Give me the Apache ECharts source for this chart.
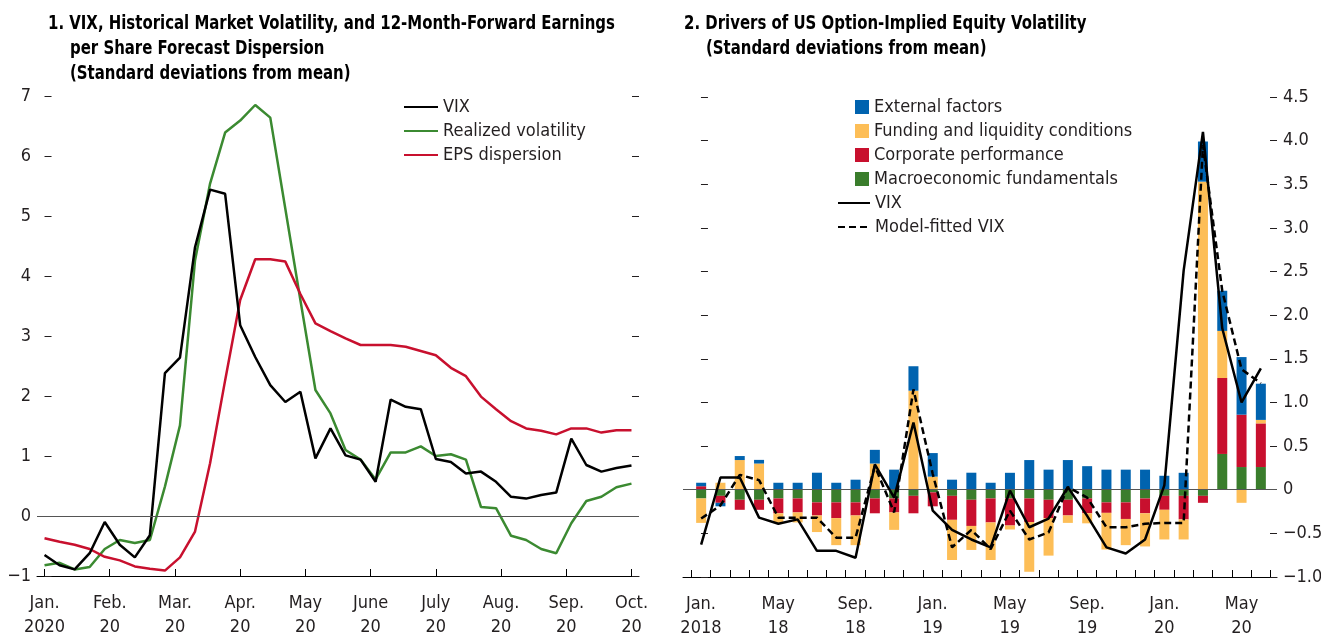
<!DOCTYPE html>
<html>
<head>
<meta charset="utf-8">
<script src="https://cdn.jsdelivr.net/npm/echarts@6/dist/echarts.min.js"></script>
<style>
  html, body { margin: 0; padding: 0; background: #fff; }
  #chart { width: 1321px; height: 633px; }
</style>
</head>
<body>
<div id="chart"></div>
<script>
// panel 1: weekly observations, Jan. 2020 - Oct. 2020
const months1 = ['Jan.\n2020', 'Feb.\n20', 'Mar.\n20', 'Apr.\n20', 'May\n20', 'June\n20', 'July\n20', 'Aug.\n20', 'Sep.\n20', 'Oct.\n20']
const vix1 = [-0.65, -0.82, -0.89, -0.62, -0.1, -0.48, -0.69, -0.32, 2.38, 2.64,
  4.48, 5.44, 5.37, 3.18, 2.65, 2.18, 1.9, 2.07, 0.96, 1.46,
  1.01, 0.94, 0.57, 1.94, 1.82, 1.78, 0.95, 0.9, 0.71, 0.74,
  0.57, 0.32, 0.29, 0.35, 0.39, 1.29, 0.85, 0.74, 0.8, 0.84]
const realizedVol = [-0.82, -0.78, -0.89, -0.85, -0.55, -0.4, -0.45, -0.4, 0.49, 1.51,
  4.26, 5.54, 6.39, 6.59, 6.85, 6.64, 5.12, 3.6, 2.1, 1.71,
  1.1, 0.94, 0.61, 1.06, 1.06, 1.16, 1.0, 1.03, 0.94, 0.15,
  0.13, -0.33, -0.4, -0.55, -0.62, -0.12, 0.25, 0.32, 0.48, 0.54]
const epsDispersion = [-0.37, -0.43, -0.48, -0.55, -0.68, -0.74, -0.84, -0.88, -0.91, -0.69,
  -0.26, 0.88, 2.26, 3.6, 4.28, 4.28, 4.24, 3.7, 3.21, 3.08,
  2.96, 2.85, 2.85, 2.85, 2.82, 2.75, 2.68, 2.47, 2.33, 1.99,
  1.78, 1.58, 1.46, 1.42, 1.36, 1.46, 1.46, 1.39, 1.43, 1.43]

// panel 2: monthly, Jan. 2018 - June 2020
const months2 = ['Jan.\n2018', 'May\n18', 'Sep.\n18', 'Jan.\n19', 'May\n19', 'Sep.\n19', 'Jan.\n20', 'May\n20']
const monthCats = ['2018-01', '2018-02', '2018-03', '2018-04', '2018-05', '2018-06', '2018-07', '2018-08', '2018-09', '2018-10',
  '2018-11', '2018-12', '2019-01', '2019-02', '2019-03', '2019-04', '2019-05', '2019-06', '2019-07', '2019-08',
  '2019-09', '2019-10', '2019-11', '2019-12', '2020-01', '2020-02', '2020-03', '2020-04', '2020-05', '2020-06']
const macro = [-0.1, -0.07, -0.115, -0.115, -0.1, -0.1, -0.145, -0.145, -0.145, -0.1,
  -0.1, -0.07, -0.03, -0.07, -0.115, -0.1, -0.1, -0.1, -0.115, -0.115,
  -0.1, -0.145, -0.145, -0.1, -0.07, -0.07, -0.07, 0.41, 0.26, 0.26]
const corporate = [0.04, -0.08, -0.115, -0.115, -0.17, -0.16, -0.15, -0.18, -0.15, -0.17,
  -0.16, -0.2, -0.16, -0.275, -0.3, -0.275, -0.31, -0.27, -0.21, -0.18,
  -0.17, -0.12, -0.19, -0.17, -0.16, -0.27, -0.08, 0.87, 0.6, 0.5]
const funding = [-0.28, 0.08, 0.34, 0.3, -0.11, -0.115, -0.19, -0.31, -0.34, 0.3,
  -0.2, 1.135, 0.15, -0.46, -0.275, -0.43, -0.046, -0.57, -0.43, -0.085,
  -0.115, -0.42, -0.3, -0.38, -0.34, -0.23, 3.53, 0.54, -0.15, 0.04]
const external = [0.04, -0.04, 0.046, 0.042, 0.08, 0.08, 0.195, 0.08, 0.115, 0.157,
  0.23, 0.28, 0.27, 0.115, 0.195, 0.08, 0.194, 0.34, 0.23, 0.34,
  0.27, 0.23, 0.23, 0.23, 0.16, 0.194, 0.46, 0.46, 0.66, 0.415]
const vix2 = [-0.63, 0.14, 0.14, -0.32, -0.39, -0.34, -0.7, -0.7, -0.78, 0.29,
  -0.09, 0.77, -0.24, -0.46, -0.57, -0.66, -0.01, -0.43, -0.33, 0.03,
  -0.3, -0.66, -0.73, -0.57, 0.05, 2.51, 4.1, 1.85, 1.0, 1.39]
const vixFitted = [-0.33, -0.18, 0.17, 0.11, -0.32, -0.32, -0.32, -0.55, -0.55, 0.27,
  -0.26, 1.15, 0.18, -0.66, -0.46, -0.68, -0.24, -0.57, -0.49, 0.03,
  -0.09, -0.43, -0.43, -0.39, -0.38, -0.38, 3.95, 2.28, 1.38, 1.22]

const FONT = "'Liberation Sans Narrow', 'DejaVu Sans Condensed', Roboto, sans-serif"
const INK = '#231f20'
const C_BLUE = '#0063af'
const C_YELLOW = '#fdbe57'
const C_RED = '#c8102e'
const C_GREEN = '#3a7d2c'

const txt = { fontFamily: FONT, fontSize: 18, color: INK }
const minus = v => (v < 0 ? '\u2212' + Math.abs(v) : String(v))

// tick positions in index units
const nWeeks = vix1.length
const weekTicks = months1.map((m, i) => i * (nWeeks - 1) / (months1.length - 1))
const monthTicks = monthCats.map((m, i) => i - 0.5).concat([monthCats.length - 0.5])
const monthLabelPos = months2.map((m, i) => i * 4)

const xy = arr => arr.map((v, i) => [i, v])
const zeroLine = {
  silent: true, symbol: ['none', 'none'], label: { show: false },
  lineStyle: { color: '#555', width: 1, type: 'solid' },
  data: [{ yAxis: 0 }]
}

function yAxisBase(grid, min, max, interval, pos) {
  return {
    gridIndex: grid, type: 'value', min, max, interval, position: pos,
    axisLine: { show: false },
    axisTick: { show: true, inside: true, length: 7, lineStyle: { color: INK } },
    splitLine: { show: false },
    axisLabel: { show: false }
  }
}

const yLeft1 = yAxisBase(0, -1, 7, 1, 'left')
yLeft1.axisLabel = { show: true, margin: 6, formatter: minus, ...txt }
const yRight1 = yAxisBase(0, -1, 7, 1, 'right')
const yLeft2 = yAxisBase(1, -1, 4.5, 0.5, 'left')
const yRight2 = yAxisBase(1, -1, 4.5, 0.5, 'right')
yRight2.axisLabel = {
  show: true, margin: 6, ...txt,
  formatter: v => (v === 0 ? '0' : (v < 0 ? '\u2212' : '') + Math.abs(v).toFixed(1))
}
// hidden scale for the bars, same range as panel 2
const yData2 = { gridIndex: 2, type: 'value', min: -1, max: 4.5, show: false, splitLine: { show: false } }

function titleText(text, x, y) {
  return {
    type: 'text', x, y, scaleX: 0.83, silent: true,
    style: { text, font: 'bold 20px ' + FONT, fill: '#000', lineHeight: 25, verticalAlign: 'top' }
  }
}

const lineLegend = {
  orient: 'vertical', padding: 0, itemGap: 0, itemHeight: 14, selectedMode: false,
  itemStyle: { opacity: 0 },
  textStyle: { ...txt, lineHeight: 24 }
}

const option = {
  backgroundColor: '#fff',
  animation: false,
  graphic: [
    titleText('1. VIX, Historical Market Volatility, and 12-Month-Forward Earnings', 48, 11),
    titleText('per Share Forecast Dispersion\n(Standard deviations from mean)', 70, 36),
    titleText('2. Drivers of US Option-Implied Equity Volatility', 684, 11),
    titleText('(Standard deviations from mean)', 706, 36)
  ],
  legend: [
    { ...lineLegend, data: ['VIX', 'Realized volatility', 'EPS dispersion'], left: 403, top: 95, itemWidth: 34 },
    {
      data: ['External factors', 'Funding and liquidity conditions', 'Corporate performance', 'Macroeconomic fundamentals'],
      left: 855, top: 95, orient: 'vertical', padding: 0, itemGap: 0,
      itemWidth: 14, itemHeight: 14, icon: 'rect', selectedMode: false,
      textStyle: { ...txt, lineHeight: 24 }
    },
    { ...lineLegend, data: ['VIX', 'Model-fitted VIX'], left: 837, top: 191, itemWidth: 32 }
  ],
  grid: [
    { left: 37, top: 96, width: 602, height: 480, outerBoundsMode: 'none' },
    { left: 683, top: 97, width: 594, height: 480, outerBoundsMode: 'none' },
    { left: 691.5, top: 97, width: 579, height: 480, outerBoundsMode: 'none' }
  ],
  xAxis: [
    {
      gridIndex: 0, type: 'value', min: -0.5, max: nWeeks - 0.5,
      axisLine: { onZero: false, lineStyle: { color: '#000', width: 1 } },
      axisTick: { inside: true, length: 7, customValues: weekTicks, lineStyle: { color: '#000' } },
      axisLabel: {
        customValues: weekTicks, margin: 15, lineHeight: 24, ...txt,
        formatter: v => months1[Math.round(v * (months1.length - 1) / (nWeeks - 1))]
      },
      splitLine: { show: false }
    },
    {
      gridIndex: 1, type: 'value', min: -0.93, max: monthCats.length - 0.16,
      axisLine: { onZero: false, lineStyle: { color: '#000', width: 1 } },
      axisTick: { inside: true, length: 7, customValues: monthTicks, lineStyle: { color: '#000' } },
      axisLabel: {
        customValues: monthLabelPos, margin: 15, lineHeight: 24, ...txt,
        formatter: v => months2[Math.round(v / 4)]
      },
      splitLine: { show: false }
    },
    { gridIndex: 2, type: 'category', data: monthCats, show: false, boundaryGap: true }
  ],
  yAxis: [yLeft1, yRight1, yLeft2, yRight2, yData2],
  series: [
    {
      name: 'VIX', type: 'line', xAxisIndex: 0, yAxisIndex: 0, data: xy(vix1),
      symbol: 'none', lineStyle: { color: '#000', width: 2.5 }, itemStyle: { color: '#000' },
      markLine: zeroLine, z: 4
    },
    {
      name: 'Realized volatility', type: 'line', xAxisIndex: 0, yAxisIndex: 0, data: xy(realizedVol),
      symbol: 'none', lineStyle: { color: '#3b8a31', width: 2.5 }, itemStyle: { color: '#3b8a31' }, z: 3
    },
    {
      name: 'EPS dispersion', type: 'line', xAxisIndex: 0, yAxisIndex: 0, data: xy(epsDispersion),
      symbol: 'none', lineStyle: { color: C_RED, width: 2.5 }, itemStyle: { color: C_RED }, z: 3
    },
    // zero line across the full panel 2 frame
    { type: 'line', xAxisIndex: 1, yAxisIndex: 2, data: [], markLine: zeroLine },
    // stacked drivers, innermost first
    {
      name: 'Macroeconomic fundamentals', type: 'bar', xAxisIndex: 2, yAxisIndex: 4, stack: 'drivers',
      barWidth: 10, data: macro, itemStyle: { color: C_GREEN }
    },
    {
      name: 'Corporate performance', type: 'bar', xAxisIndex: 2, yAxisIndex: 4, stack: 'drivers',
      barWidth: 10, data: corporate, itemStyle: { color: C_RED }
    },
    {
      name: 'Funding and liquidity conditions', type: 'bar', xAxisIndex: 2, yAxisIndex: 4, stack: 'drivers',
      barWidth: 10, data: funding, itemStyle: { color: C_YELLOW }
    },
    {
      name: 'External factors', type: 'bar', xAxisIndex: 2, yAxisIndex: 4, stack: 'drivers',
      barWidth: 10, data: external, itemStyle: { color: C_BLUE }
    },
    {
      name: 'VIX', type: 'line', xAxisIndex: 2, yAxisIndex: 4, data: vix2,
      symbol: 'none', lineStyle: { color: '#000', width: 2.5 }, itemStyle: { color: '#000' }, z: 5
    },
    {
      name: 'Model-fitted VIX', type: 'line', xAxisIndex: 2, yAxisIndex: 4, data: vixFitted,
      symbol: 'none', lineStyle: { color: '#000', width: 2.5, type: [7, 4] }, itemStyle: { color: '#000' }, z: 5
    }
  ]
}

const chart = echarts.init(document.getElementById('chart'), null, { renderer: 'canvas' })
chart.setOption(option)
</script>
</body>
</html>
